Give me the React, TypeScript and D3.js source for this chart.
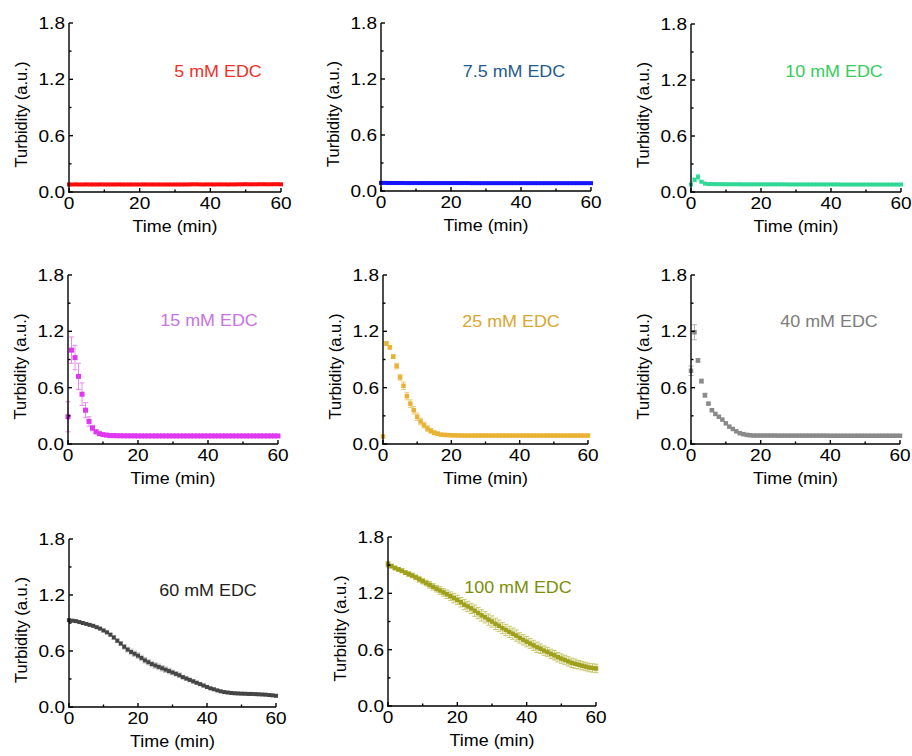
import React from "react";
import * as d3 from "d3";

// turbidity readings, one per minute (0..60)
const edc5 = [
  0.08, 0.08, 0.081, 0.08, 0.08, 0.081, 0.08, 0.08, 0.08, 0.081,
  0.08, 0.08, 0.08, 0.08, 0.081, 0.08, 0.08, 0.08, 0.08, 0.08,
  0.08, 0.081, 0.08, 0.08, 0.08, 0.08, 0.08, 0.08, 0.08, 0.08,
  0.08, 0.08, 0.08, 0.08, 0.081, 0.082, 0.082, 0.081, 0.08, 0.081,
  0.081, 0.08, 0.081, 0.081, 0.081, 0.08, 0.081, 0.081, 0.082, 0.082,
  0.083, 0.082, 0.082, 0.082, 0.083, 0.083, 0.082, 0.082, 0.083, 0.083,
  0.082,
];
const edc7_5 = [
  0.087, 0.087, 0.086, 0.086, 0.086, 0.086, 0.086, 0.085, 0.085, 0.085,
  0.085, 0.085, 0.085, 0.085, 0.085, 0.085, 0.085, 0.085, 0.085, 0.085,
  0.085, 0.085, 0.085, 0.085, 0.085, 0.085, 0.084, 0.084, 0.084, 0.084,
  0.084, 0.084, 0.084, 0.084, 0.084, 0.084, 0.084, 0.084, 0.084, 0.084,
  0.084, 0.084, 0.084, 0.084, 0.084, 0.084, 0.084, 0.084, 0.084, 0.084,
  0.084, 0.084, 0.084, 0.084, 0.084, 0.084, 0.084, 0.084, 0.084, 0.084,
  0.084,
];
const edc10 = [
  0.08, 0.13, 0.16, 0.11, 0.09, 0.085, 0.085, 0.084, 0.084, 0.084,
  0.083, 0.083, 0.083, 0.083, 0.083, 0.082, 0.082, 0.082, 0.082, 0.082,
  0.082, 0.082, 0.082, 0.082, 0.082, 0.082, 0.082, 0.082, 0.081, 0.081,
  0.081, 0.081, 0.081, 0.081, 0.081, 0.081, 0.081, 0.081, 0.081, 0.081,
  0.081, 0.081, 0.081, 0.08, 0.08, 0.08, 0.08, 0.08, 0.08, 0.08,
  0.08, 0.08, 0.08, 0.08, 0.08, 0.08, 0.08, 0.08, 0.08, 0.08,
  0.08,
];
const edc10Err = [0, 0.02, 0.03, 0.01];
const edc15 = [
  0.29, 1.0, 0.92, 0.72, 0.53, 0.36, 0.24, 0.17, 0.13, 0.11,
  0.1, 0.095, 0.09, 0.09, 0.088, 0.088, 0.087, 0.087, 0.087, 0.087,
  0.086, 0.086, 0.086, 0.086, 0.086, 0.086, 0.086, 0.086, 0.086, 0.086,
  0.086, 0.086, 0.086, 0.086, 0.086, 0.086, 0.086, 0.086, 0.086, 0.086,
  0.086, 0.086, 0.086, 0.086, 0.086, 0.086, 0.086, 0.086, 0.086, 0.086,
  0.086, 0.086, 0.086, 0.086, 0.086, 0.086, 0.086, 0.086, 0.086, 0.086,
  0.086,
];
const edc15Err = [0.16, 0.14, 0.13, 0.14, 0.12, 0.08, 0.05, 0.03, 0.02, 0.015, 0.01, 0.01];
const edc25 = [
  0.08, 1.07, 1.03, 0.93, 0.83, 0.71, 0.62, 0.51, 0.43, 0.36,
  0.29, 0.24, 0.2, 0.165, 0.14, 0.12, 0.11, 0.1, 0.097, 0.095,
  0.093, 0.092, 0.091, 0.09, 0.09, 0.09, 0.09, 0.09, 0.09, 0.09,
  0.09, 0.09, 0.09, 0.09, 0.09, 0.09, 0.09, 0.09, 0.09, 0.09,
  0.09, 0.09, 0.09, 0.09, 0.09, 0.09, 0.09, 0.09, 0.09, 0.09,
  0.09, 0.09, 0.09, 0.09, 0.09, 0.09, 0.09, 0.09, 0.09, 0.09,
  0.09,
];
const edc25Err = [
  0, 0.02, 0.02, 0.02, 0.03, 0.03, 0.04, 0.04, 0.04, 0.04,
  0.04, 0.035, 0.03, 0.03, 0.025, 0.02, 0.015, 0.01, 0.01, 0.01,
];
const edc40 = [
  0.78, 1.19, 0.89, 0.67, 0.52, 0.43, 0.36, 0.32, 0.29, 0.26,
  0.22, 0.185, 0.16, 0.135, 0.115, 0.105, 0.097, 0.093, 0.09, 0.09,
  0.09, 0.09, 0.09, 0.09, 0.09, 0.089, 0.089, 0.089, 0.089, 0.089,
  0.089, 0.089, 0.089, 0.089, 0.089, 0.089, 0.089, 0.089, 0.089, 0.089,
  0.088, 0.088, 0.088, 0.088, 0.088, 0.088, 0.088, 0.088, 0.088, 0.088,
  0.088, 0.088, 0.088, 0.088, 0.088, 0.088, 0.088, 0.088, 0.088, 0.088,
  0.088,
];
const edc40Err = [0.05, 0.08, 0.02, 0.02, 0.02, 0.01, 0.01];
const edc60 = [
  0.93, 0.925, 0.92, 0.91, 0.9, 0.89, 0.88, 0.87, 0.855, 0.84,
  0.82, 0.8, 0.775, 0.745, 0.71, 0.68, 0.645, 0.615, 0.59, 0.57,
  0.55, 0.525, 0.5, 0.48, 0.46, 0.445, 0.43, 0.415, 0.4, 0.385,
  0.37, 0.355, 0.34, 0.32, 0.305, 0.29, 0.275, 0.26, 0.245, 0.23,
  0.215, 0.2, 0.19, 0.178, 0.168, 0.16, 0.155, 0.15, 0.147, 0.145,
  0.143, 0.142, 0.14, 0.14, 0.138, 0.136, 0.134, 0.132, 0.128, 0.125,
  0.12,
];
const edc60Err = [
  0.01, 0.01, 0.01, 0.01, 0.01, 0.01, 0.01, 0.01, 0.01, 0.01,
  0.015, 0.015, 0.015, 0.02, 0.02, 0.02, 0.025, 0.025, 0.03, 0.03,
  0.03, 0.03, 0.03, 0.03, 0.03, 0.03, 0.03, 0.03, 0.03, 0.03,
  0.025, 0.025, 0.025, 0.02, 0.02, 0.02, 0.02, 0.015, 0.015, 0.015,
  0.01, 0.01, 0.01, 0.01, 0.01, 0.01, 0.01, 0.01, 0.01, 0.01,
];
const edc100 = [
  1.51, 1.49, 1.47, 1.455, 1.44, 1.42, 1.405, 1.39, 1.37, 1.35,
  1.33, 1.31, 1.29, 1.27, 1.25, 1.23, 1.21, 1.19, 1.17, 1.15,
  1.13, 1.105, 1.08, 1.06, 1.04, 1.015, 0.99, 0.965, 0.945, 0.92,
  0.9, 0.875, 0.855, 0.83, 0.81, 0.79, 0.77, 0.75, 0.725, 0.705,
  0.685, 0.665, 0.645, 0.625, 0.61, 0.59, 0.575, 0.555, 0.54, 0.52,
  0.505, 0.49, 0.475, 0.46, 0.45, 0.44, 0.43, 0.42, 0.41, 0.405,
  0.4,
];
const edc100Err = [
  0.03, 0.02, 0.02, 0.02, 0.02, 0.02, 0.025, 0.025, 0.025, 0.03,
  0.03, 0.03, 0.035, 0.035, 0.035, 0.04, 0.04, 0.045, 0.045, 0.05,
  0.05, 0.05, 0.055, 0.055, 0.055, 0.06, 0.06, 0.06, 0.06, 0.06,
  0.06, 0.06, 0.06, 0.06, 0.06, 0.06, 0.06, 0.06, 0.055, 0.055,
  0.055, 0.055, 0.055, 0.055, 0.05, 0.05, 0.05, 0.05, 0.05, 0.05,
  0.05, 0.05, 0.05, 0.05, 0.05, 0.045, 0.045, 0.045, 0.045, 0.045,
  0.045,
];

const labels = ["5 mM EDC", "7.5 mM EDC", "10 mM EDC", "15 mM EDC", "25 mM EDC", "40 mM EDC", "60 mM EDC", "100 mM EDC"];
const seriesValues = [edc5, edc7_5, edc10, edc15, edc25, edc40, edc60, edc100];
const seriesErrors = [[], [], edc10Err, edc15Err, edc25Err, edc40Err, edc60Err, edc100Err];

const yTicks = [0, 0.6, 1.2, 1.8];
const yMinor = [0.3, 0.9, 1.5];
const xTicks = [0, 20, 40, 60];
const xMinor = [10, 30, 50];

// per-panel styling / placement
const markerColors = ["#ff0a0a", "#1414ff", "#2fd897", "#df38f0", "#e9b234", "#8a8a8a", "#454545", "#9fa01c"];
const errColors = ["#ff6666", "#7777ff", "#7fe8c0", "#e78af2", "#f0cc7a", "#b0b0b0", "#c4c4c4", "#c8c870"];
const textColors = ["#f0302a", "#1f5b8c", "#36cc5c", "#c872e4", "#d9a630", "#7c7c7c", "#222222", "#7d8e06"];
const markerSize = [4, 4, 4, 5, 4.5, 4.5, 4, 4.5];
const frames = [
  { x0: 69, x1: 281, y0: 192, y1: 23, lx: 218, ly: 77 },
  { x0: 381, x1: 591, y0: 191, y1: 23, lx: 514, ly: 77 },
  { x0: 691, x1: 901, y0: 192, y1: 24, lx: 834, ly: 77 },
  { x0: 68, x1: 278, y0: 444, y1: 275, lx: 209, ly: 326 },
  { x0: 383, x1: 588, y0: 444, y1: 275, lx: 511, ly: 327 },
  { x0: 691, x1: 900, y0: 444, y1: 275, lx: 829, ly: 327 },
  { x0: 69, x1: 276, y0: 707, y1: 539, lx: 208, ly: 596 },
  { x0: 388, x1: 596, y0: 706, y1: 537, lx: 518, ly: 593 },
];

const FONT = "'Liberation Sans', Arial, Helvetica, sans-serif";
const SX = 1.12; // horizontal text stretch seen in the figure

function Panel({ i }: { i: number }) {
  const f = frames[i];
  const vals = seriesValues[i];
  const errs = seriesErrors[i];
  const x = d3.scaleLinear().domain([0, 60]).range([f.x0, f.x1]);
  const y = d3.scaleLinear().domain([0, 1.8]).range([f.y0, f.y1]);
  const s = markerSize[i];
  const mid = (f.y0 + f.y1) / 2 + 7;
  return (
    <g>
      {/* error bars */}
      <g stroke={errColors[i]} strokeWidth={1} fill="none">
        {errs.map((e, t) =>
          e > 0 ? (
            <g key={t}>
              <line x1={x(t)} x2={x(t)} y1={y(vals[t] - e)} y2={y(vals[t] + e)} />
              <line x1={x(t) - 2.5} x2={x(t) + 2.5} y1={y(vals[t] - e)} y2={y(vals[t] - e)} />
              <line x1={x(t) - 2.5} x2={x(t) + 2.5} y1={y(vals[t] + e)} y2={y(vals[t] + e)} />
            </g>
          ) : null
        )}
      </g>
      {/* square markers */}
      <g fill={markerColors[i]}>
        {vals.map((v, t) => (
          <rect key={t} x={x(t) - s / 2} y={y(v) - s / 2} width={s} height={s} />
        ))}
      </g>
      {/* axes */}
      <g stroke="#000" strokeWidth={1.4}>
        <line x1={f.x0} x2={f.x0} y1={f.y1} y2={f.y0 + 0.7} />
        <line x1={f.x0 - 0.7} x2={f.x1} y1={f.y0} y2={f.y0} />
        {yTicks.map((t) => (
          <line key={"y" + t} x1={f.x0} x2={f.x0 + 4} y1={y(t)} y2={y(t)} />
        ))}
        {yMinor.map((t) => (
          <line key={"ym" + t} x1={f.x0} x2={f.x0 + 2.5} y1={y(t)} y2={y(t)} />
        ))}
        {xTicks.map((t) => (
          <line key={"x" + t} x1={x(t)} x2={x(t)} y1={f.y0} y2={f.y0 - 4} />
        ))}
        {xMinor.map((t) => (
          <line key={"xm" + t} x1={x(t)} x2={x(t)} y1={f.y0} y2={f.y0 - 2.5} />
        ))}
      </g>
      <g fontFamily={FONT} fontSize={17} fill="#000">
        {yTicks.map((t) => (
          <text key={"yl" + t} textAnchor="end" transform={`translate(${f.x0 - 4},${y(t) + 6}) scale(${SX},1)`}>
            {t.toFixed(1)}
          </text>
        ))}
        {xTicks.map((t) => (
          <text key={"xl" + t} textAnchor="middle" transform={`translate(${x(t)},${f.y0 + 17}) scale(${SX},1)`}>
            {t}
          </text>
        ))}
        <text textAnchor="middle" fontSize={16} transform={`translate(${(f.x0 + f.x1) / 2},${f.y0 + 40}) scale(${SX},1)`}>
          Time (min)
        </text>
        <text textAnchor="middle" fontSize={16.5} transform={`translate(${f.x0 - 42},${mid}) rotate(-90)`}>
          Turbidity (a.u.)
        </text>
        <text textAnchor="middle" fontSize={16} fill={textColors[i]} transform={`translate(${f.lx},${f.ly}) scale(${SX},1)`}>
          {labels[i]}
        </text>
      </g>
    </g>
  );
}

export default function App() {
  return (
    <svg
      width={912}
      height={756}
      viewBox="0 0 912 756"
      style={{ position: "absolute", left: 0, top: 0, background: "#fff" }}
    >
      {labels.map((_, i) => (
        <Panel key={i} i={i} />
      ))}
    </svg>
  );
}
